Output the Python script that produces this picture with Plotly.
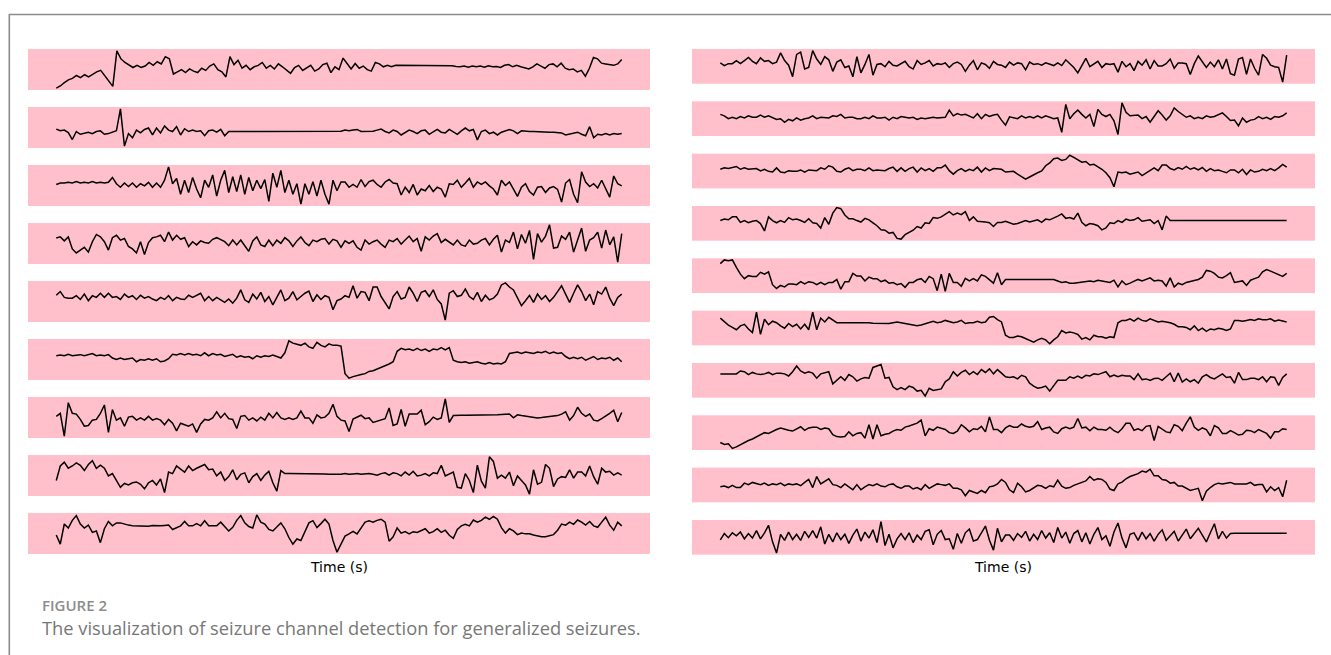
import plotly.graph_objects as go

W, H = 1331, 655

# sample index along time (uniform sampling of each EEG channel)
SAMPLES = list(range(142))

# ---- left column channels (amplitudes) ----
L1 = [-55,-49,-40,-32,-28,-20,-26,-18,-24,-16,-10,-6,-20,-34,-50,48,26,16,8,2,
      8,2,6,16,8,18,12,32,26,-16,-10,-4,-12,-2,-8,-12,0,-6,6,12,
      -4,-10,-24,32,10,22,0,8,-4,4,8,16,0,8,-2,12,4,-4,-14,2,
      8,-6,0,8,-8,-2,10,14,-12,4,-4,28,
      13,-2,13,0,6,-4,-8,16,12,4,8,4,8,8,8,8,8,8,8,8,8,8,8,8,7,7,7,
      5,4,6,3,6,4,6,3,7,4,5,2,8,10,4,8,4,2,-2,4,
      12,6,0,10,12,4,14,0,-4,-2,-10,-6,-22,0,30,26,14,12,10,8,12,24]
L2 = [-3,-8,-6,-13,-33,-10,-18,-14,-12,-16,-10,-8,-18,-16,-12,-8,55,-52,-16,-28,
      -6,-14,-4,0,-20,0,-14,6,-6,-10,4,-20,-2,-10,-6,-10,-8,-22,-8,-6,
      -12,-4,-22,-10,-10,-10,-10,-10,-10,-10,-10,-10,-10,-10,-10,-10,-10,-10,-10,-10,
      -10,-10,-10,-11,-10,-10,-10,-11,-10,-9,-10,-9,
      -6,-8,-6,-4,-10,-10,-10,-9,-6,-3,-10,-14,-6,-10,-20,-14,-6,-10,-16,-8,
      -6,-18,-10,-4,-12,-14,-4,-10,-18,-8,0,-8,-4,-34,-10,-6,-16,-12,-20,-12,
      -8,-4,-8,-16,-8,-10,-10,-10,-11,-11,-11,-12,-12,-12,
      -14,-20,-18,-14,-12,-18,-22,4,-28,-18,-20,-16,-20,-16,-18,-16]
L3 = [4,8,8,10,8,12,8,10,8,12,8,10,8,10,24,6,-4,8,-2,8,
      -4,6,0,10,-4,8,-4,16,54,6,21,-24,16,-19,24,-9,-34,16,-4,31,
      -29,16,44,-19,26,-16,31,-24,24,-14,16,-8,18,-44,36,-4,44,-19,16,-24,
      6,-52,6,-24,12,-29,16,-24,-52,16,-14,11,
      11,-4,4,-4,18,-2,12,16,4,-4,11,18,8,6,-26,-4,-19,4,-26,-9,
      -14,1,-16,-4,-9,-32,6,4,16,-4,8,21,-4,11,4,11,0,-9,-26,16,
      1,11,-9,-30,-4,6,-16,-26,-4,-2,-19,-6,-2,-10,-46,8,18,-24,-48,40,
      11,-2,6,-6,16,-8,-32,28,6,0]
L4 = [15,18,8,18,-12,-22,-15,-8,-20,6,24,18,6,-15,16,22,10,14,-6,-12,
      -22,6,-26,4,16,18,22,6,30,10,22,12,16,-6,6,-2,8,4,2,12,
      16,10,6,-4,10,-2,10,-4,-18,8,18,-2,-6,10,-4,10,2,16,8,-6,
      8,18,4,-4,10,6,12,14,0,12,8,-8,
      8,2,8,-8,-15,10,0,6,10,0,-8,10,6,14,0,10,20,6,14,-18,
      18,10,20,26,4,12,5,-2,10,-2,-5,10,0,2,10,14,-2,12,22,-20,
      10,4,30,-12,24,2,34,-38,26,5,20,48,-10,-8,20,12,30,-20,10,40,
      -18,10,16,30,-10,35,-2,18,-45,26]
L5 = [19,28,14,12,12,18,9,22,6,18,14,24,14,24,14,16,9,22,14,18,
      9,19,12,16,10,6,14,9,18,6,14,10,9,19,14,20,24,6,16,6,
      14,8,2,10,0,12,32,8,2,22,10,26,4,16,-4,14,32,6,12,28,
      8,16,24,29,4,20,9,18,14,-16,6,10,
      18,14,42,12,28,26,6,39,39,16,2,-14,16,28,10,14,39,24,4,26,
      30,16,32,9,-2,-41,24,30,16,19,34,16,9,26,4,19,8,12,22,44,
      49,39,32,12,-6,6,19,2,22,9,18,4,14,28,42,22,2,24,44,28,
      6,22,-4,28,22,39,12,-6,14,22]
L6 = [10,12,10,14,10,12,13,10,12,16,10,12,10,13,4,0,4,0,2,4,
      -6,0,-2,2,-2,2,-6,-4,2,14,12,16,12,16,12,14,10,18,10,16,
      12,14,8,12,14,6,10,6,8,2,10,6,10,8,12,8,4,18,50,44,
      42,38,44,34,30,46,38,34,42,38,38,36,
      -38,-50,-46,-42,-40,-38,-32,-30,-26,-22,-16,-12,-6,22,30,26,28,24,30,24,
      28,22,28,26,32,26,32,-2,-6,-8,-6,-10,-8,-6,-10,-12,-8,-12,-10,-12,
      -6,16,18,20,16,20,18,16,20,18,22,16,20,16,18,8,2,6,2,6,
      -2,4,8,0,4,2,6,-2,4,-6]
L7 = [4,12,-48,40,12,10,-4,-22,-20,-6,-4,12,34,-38,22,-6,0,-22,2,4,
      -6,0,-6,4,-6,-2,-6,-18,-4,-14,-34,-14,-18,-22,-16,-38,-16,-4,-6,0,
      16,0,12,-2,-4,-28,4,6,-6,0,-8,2,-6,12,0,14,0,-4,0,-4,
      0,18,0,0,-14,8,0,2,12,36,4,-6,
      -8,-36,-3,2,7,-2,0,-12,-8,-4,-2,26,-20,-16,22,-22,10,10,10,20,
      -18,-10,2,-4,0,50,-12,6,7,7,7,7,7,7,7,8,8,8,8,9,
      9,10,0,8,6,4,4,2,0,1,2,3,4,6,10,16,-6,6,28,12,
      4,10,-6,-8,-2,4,12,20,-10,14]
L8 = [-14,24,34,18,24,32,26,12,28,38,18,26,18,-2,4,-16,-32,-22,-26,-20,
      -18,-24,-36,-20,-14,-26,-10,-46,8,4,24,16,8,24,12,18,24,28,14,16,
      -2,8,-14,-4,14,-12,2,6,-20,-4,4,-14,0,10,-20,-42,12,4,4,4,
      4,4,4,3,3,3,3,3,2,2,2,2,
      4,2,3,4,2,3,4,2,0,4,6,0,6,4,-2,8,0,10,-2,0,
      4,-2,6,4,26,-2,4,8,-32,-34,4,-14,-46,26,-16,-34,48,36,-8,0,
      -8,8,-28,-2,-14,-26,-50,14,-24,-19,28,18,-30,-10,-4,-6,14,-8,8,8,
      -2,24,-4,-24,18,8,10,0,6,0]
L9 = [-5,-30,25,14,35,48,25,14,22,2,6,-26,12,32,20,28,28,24,22,20,
      20,18,20,19,21,20,20,21,22,10,16,20,32,20,20,26,20,34,20,20,
      20,30,18,6,16,35,48,28,18,14,50,30,25,10,6,18,28,12,-12,-30,
      -16,-20,4,28,34,15,26,38,25,-20,-52,-30,
      -8,-2,5,-2,15,30,34,30,35,38,30,-22,-10,14,0,4,-2,4,2,6,
      12,0,4,12,2,8,-6,-14,10,20,24,20,36,30,35,44,38,46,38,15,
      0,12,6,-4,0,-2,-2,-5,-8,-10,-10,-8,-4,8,25,22,30,24,36,30,
      22,32,20,16,30,44,22,8,30,20]

# ---- right column channels ----
R1 = [12,5,10,10,18,10,18,26,16,10,25,16,18,10,14,38,18,6,-24,34,
      40,-4,0,44,22,8,28,20,-10,14,20,0,4,-24,28,-14,8,34,-20,8,
      10,2,16,6,4,10,16,2,-4,18,8,12,18,4,10,8,12,0,10,14,
      8,-10,6,18,-6,12,8,-2,16,8,6,0,
      14,6,12,10,-6,14,8,10,6,12,8,5,12,5,20,10,0,-14,6,24,
      2,8,16,0,10,8,10,-12,16,2,10,-8,16,6,20,-4,18,4,4,10,
      22,-2,12,12,10,-18,10,30,14,0,14,2,20,-4,22,-16,-20,22,26,-18,
      22,-2,-20,34,24,6,2,0,-38,32]
R2 = [8,4,-4,0,-4,2,-2,4,0,0,6,0,4,-2,-6,-4,-14,-6,-10,-2,
      -8,-4,-2,4,-4,0,-2,-2,4,2,8,-2,0,0,-4,-4,0,-4,4,-2,
      -2,0,-8,0,-4,2,0,-2,0,-6,-2,-4,-2,0,-2,-2,0,20,4,10,
      6,8,4,-2,10,-4,8,2,6,8,-8,-22,
      1,-2,-4,4,-2,2,-2,4,-2,4,0,-4,-2,-42,36,-4,10,20,8,-2,
      8,-26,22,8,2,8,-10,-48,40,14,4,4,6,-4,2,-14,2,18,6,-8,
      4,26,16,8,0,4,-4,0,-4,4,0,2,6,12,2,-9,-8,-24,-2,-14,
      -8,-6,2,-4,0,-6,2,0,4,12]
R3 = [3,7,5,7,11,3,7,3,3,5,-2,3,-3,-5,7,-5,-7,-1,-3,-3,
      1,-5,1,-1,-1,7,3,13,9,-3,-5,3,7,-1,3,3,-1,7,-1,1,
      1,-1,5,9,-3,7,-3,5,9,-5,7,-1,5,-3,7,7,15,-1,-11,-1,
      5,-3,3,-1,9,-5,7,-1,5,3,3,-5,
      -3,-3,-11,-17,-25,-19,-12,-7,-2,13,21,33,35,28,31,43,37,31,23,25,
      15,17,11,3,-7,-21,-47,-5,-7,-5,-11,-9,-5,-15,-7,-1,7,-1,15,15,
      5,1,8,3,11,3,7,1,8,-3,5,-1,1,-3,-7,1,1,-7,3,-12,
      1,-5,-3,3,-1,5,-1,7,17,9]
R4 = [10,14,12,20,20,5,10,4,8,10,2,-18,20,10,4,10,5,18,12,14,
      10,5,15,4,2,-10,18,0,30,45,42,25,15,15,10,6,16,12,4,-4,
      -15,-16,-24,-22,-38,-40,-28,-22,-16,-6,-10,4,2,18,16,20,26,34,25,30,
      26,34,10,20,8,8,6,4,-6,5,5,8,
      4,0,2,5,10,6,8,12,5,14,12,16,22,28,16,18,14,30,5,-4,
      2,0,-4,-15,-10,4,2,10,5,14,10,12,18,8,10,12,2,10,-15,22,
      10,10,10,10,10,10,10,10,10,10,10,9,9,9,9,9,9,9,10,10,
      10,10,10,11,10,10,10,9,10,10]
R5 = [36,46,44,46,26,8,-4,4,2,2,13,8,14,-20,-30,-22,-26,-18,-18,-20,
      -12,-18,-12,-14,-20,-14,-20,-14,-14,-6,-32,-12,-12,10,3,3,-10,0,-4,-4,
      -12,-8,-16,-14,-20,-17,-27,-14,-14,-7,-4,-14,2,-4,-36,8,-38,10,-14,-14,
      -24,-3,-10,-4,-10,6,2,-8,-16,12,-20,-6,
      -6,-6,-6,-6,-7,-7,-7,-7,-7,-7,-6,-6,-10,-14,-12,-16,-16,-14,-12,-12,
      -10,-12,-8,-10,-12,-14,-8,-26,-10,-20,-16,-12,-6,-10,-6,-2,-10,-8,-10,-24,
      -2,-26,-16,-20,-14,-12,-8,-6,0,18,16,10,0,-2,4,12,-14,-12,-10,-22,
      -8,-4,0,14,20,16,12,8,2,10]
R6 = [25,15,7,1,-5,5,9,-3,-12,40,-17,22,8,17,13,5,-1,11,3,9,
      -3,9,-5,40,-5,25,15,27,19,13,13,13,13,13,13,13,14,13,12,12,
      11,11,11,13,15,13,10,9,7,5,7,10,15,17,13,15,19,15,13,15,
      19,11,13,13,17,13,15,27,29,21,15,-19,
      -25,-25,-21,-23,-27,-33,-37,-31,-27,-31,-41,-31,-23,-7,-13,-11,-13,-17,-29,-25,
      -31,-19,-23,-23,-27,-23,-25,13,19,19,23,17,25,19,17,23,19,15,17,15,
      13,9,3,3,1,-5,5,-7,-1,-9,-3,-5,-1,-3,-7,-3,19,19,17,19,
      21,19,23,21,21,23,17,20,17,15]
R7 = [19,19,21,19,19,27,25,17,23,19,17,19,23,17,21,21,19,13,25,41,
      27,21,25,21,7,19,23,25,-9,1,11,1,17,11,-1,5,9,7,37,41,
      45,7,9,-17,-25,-19,-25,-15,-19,-29,-27,-43,-21,-27,-25,-23,-3,5,25,13,
      23,29,17,25,17,31,23,33,19,31,21,11,
      9,11,5,15,11,-7,-15,-21,-19,-15,-29,-15,1,1,1,11,7,13,7,15,
      13,19,17,21,25,11,16,11,15,13,13,3,19,3,5,1,6,7,1,11,
      21,-3,21,-4,5,-3,3,-7,11,17,9,5,11,19,9,11,-7,23,3,3,
      7,7,3,11,-3,11,9,-13,9,19]
R8 = [-28,-33,-31,-43,-39,-33,-29,-23,-19,-13,-8,-3,-5,1,5,9,5,3,1,7,
      12,3,9,11,11,5,9,7,-8,-13,-14,-13,-1,-11,-5,-3,-17,17,-19,17,
      -11,-7,-5,1,5,3,11,14,17,21,29,-11,7,3,11,7,5,-3,-5,1,
      17,9,-1,7,5,13,-1,37,5,5,-3,9,
      15,11,11,19,13,11,13,25,5,9,11,-1,-5,7,11,7,11,33,9,11,
      2,11,5,5,3,11,2,-3,7,21,21,3,7,2,13,15,-23,13,7,-1,
      -3,17,13,2,21,37,11,3,9,5,-11,15,9,-5,-5,2,-3,-9,-7,3,
      2,-3,5,-1,-5,-17,-1,-1,7,5]
R9 = [-5,-3,-7,-1,-7,-7,5,1,7,5,1,5,-1,3,1,5,-2,3,1,3,
      -2,7,15,-7,23,3,9,17,1,-1,-7,3,-5,-13,1,-13,-5,1,-2,3,
      -3,-5,1,3,-5,-9,-3,-3,-11,-7,-13,1,-9,-2,3,1,-1,3,-9,-9,
      -13,-29,-15,-19,-23,-15,-21,-5,-3,3,15,7,
      -13,-21,5,-5,-19,-15,-9,-1,-3,-9,-2,-5,13,-3,-9,-7,-1,3,5,11,
      23,13,17,15,7,-11,-15,3,8,17,23,27,31,38,35,43,25,25,15,13,
      5,7,-3,-3,-9,-15,-12,-9,-43,-17,-7,1,5,3,5,7,3,3,1,3,
      7,-1,1,1,-19,-5,-15,-7,-32,13]
R10 = [-9,8,-3,10,2,12,-6,8,-4,16,-6,10,30,-14,-44,6,-10,12,-8,6,
       -10,14,-2,16,-4,26,-20,6,-14,10,-8,6,-18,4,20,-12,12,-4,18,-16,
       40,-24,6,-30,-6,8,-8,10,-16,4,-8,14,18,-22,6,16,-8,-6,-34,8,
       -18,10,20,-12,-8,10,28,-10,-36,22,-14,4,
       4,-10,8,-2,14,-12,6,-8,16,-4,10,-16,24,-4,12,-18,8,16,-14,10,
       -20,6,24,-8,2,-26,12,36,-4,-30,6,10,-10,12,-6,8,-12,6,18,-10,
       2,14,-12,4,20,-6,8,22,4,-14,10,34,-6,14,-4,
       8,9,9,8,9,9,10,9,8,9,9,9,8,9,9]

LEFT = [L1, L2, L3, L4, L5, L6, L7, L8, L9]
RIGHT = [R1, R2, R3, R4, R5, R6, R7, R8, R9, R10]

AXIS_LABEL = "Time (s)"
FIG_LABEL = "FIGURE 2"
CAPTION = "The visualization of seizure channel detection for generalized seizures."

# ---- layout geometry (pixels) ----
LEFT_X = (28, 650)
RIGHT_X = (692, 1315)
LEFT_TOP, LEFT_H, LEFT_PITCH = 49, 41, 58
RIGHT_TOP, RIGHT_H, RIGHT_PITCH = 49, 34.7, 52.33

fig = go.Figure()
layout = {}


def add_panel(idx, values, xpx, top, height):
    sx = "" if idx == 1 else str(idx)
    fig.add_trace(go.Scatter(x=SAMPLES, y=values, mode="lines",
                             line=dict(color="black", width=1.5),
                             xaxis="x" + sx, yaxis="y" + sx,
                             hoverinfo="skip", showlegend=False))
    n = len(values) - 1
    lo, hi = min(values), max(values)
    pad = 0.05 * (hi - lo)
    common = dict(showgrid=False, zeroline=False, showticklabels=False,
                  ticks="", showline=False, fixedrange=True)
    layout["xaxis" + sx] = dict(domain=[xpx[0] / W, xpx[1] / W],
                                range=[-0.05 * n, 1.05 * n],
                                anchor="y" + sx, **common)
    layout["yaxis" + sx] = dict(domain=[1 - (top + height) / H, 1 - top / H],
                                range=[lo - pad, hi + pad],
                                anchor="x" + sx, **common)


idx = 1
for k, vals in enumerate(LEFT):
    add_panel(idx, vals, LEFT_X, LEFT_TOP + LEFT_PITCH * k, LEFT_H)
    idx += 1
for k, vals in enumerate(RIGHT):
    add_panel(idx, vals, RIGHT_X, RIGHT_TOP + RIGHT_PITCH * k, RIGHT_H)
    idx += 1

annotations = [
    dict(text=AXIS_LABEL, x=339 / W, y=1 - 567 / H, xref="paper", yref="paper",
         showarrow=False, xanchor="center", yanchor="middle",
         font=dict(family="DejaVu Sans", size=14, color="black")),
    dict(text=AXIS_LABEL, x=1003 / W, y=1 - 567 / H, xref="paper", yref="paper",
         showarrow=False, xanchor="center", yanchor="middle",
         font=dict(family="DejaVu Sans", size=14, color="black")),
    dict(text=FIG_LABEL, x=40 / W, y=1 - 605 / H, xref="paper", yref="paper",
         showarrow=False, xanchor="left", yanchor="middle",
         font=dict(family="Open Sans", size=15, color="#8c8c8c", weight=600)),
    dict(text=CAPTION, x=40 / W, y=1 - 627 / H, xref="paper", yref="paper",
         showarrow=False, xanchor="left", yanchor="middle",
         font=dict(family="Open Sans", size=18.3, color="#777777")),
]

shapes = [
    dict(type="line", xref="paper", yref="paper", x0=9 / W, x1=1.0,
         y0=1 - 14.5 / H, y1=1 - 14.5 / H, line=dict(color="#8c8c8c", width=1.6)),
    dict(type="line", xref="paper", yref="paper", x0=9.3 / W, x1=9.3 / W,
         y0=0, y1=1 - 14 / H, line=dict(color="#8c8c8c", width=1.6)),
]

fig.update_layout(width=W, height=H, autosize=False,
                  margin=dict(l=0, r=0, t=0, b=0, pad=0),
                  paper_bgcolor="white", plot_bgcolor="#FFC0CB",
                  showlegend=False, hovermode=False,
                  annotations=annotations, shapes=shapes, **layout)

fig.write_html("out.html", config={"displayModeBar": False, "staticPlot": True},
               post_script="document.body.style.margin='0';"
                           "document.body.style.overflow='hidden';")
